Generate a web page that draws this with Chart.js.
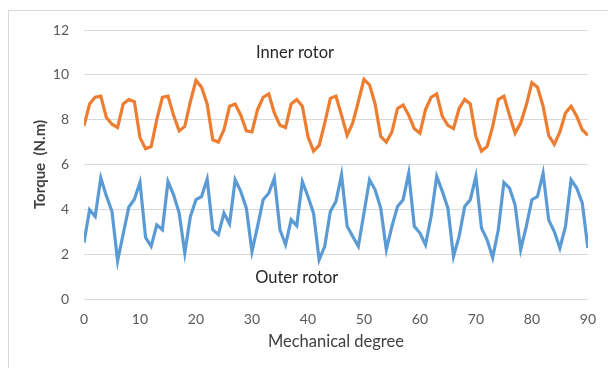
<!DOCTYPE html>
<html>
<head>
<meta charset="utf-8">
<script src="https://cdn.jsdelivr.net/npm/chart.js@4/dist/chart.umd.min.js"></script>
<style>
  html, body { margin: 0; padding: 0; background: #ffffff; }
  #wrap { width: 608px; height: 368px; position: relative; }
</style>
</head>
<body>
<div id="wrap"><canvas id="c" width="608" height="368"></canvas></div>
<script>
// Mechanical degree (x categories)
const degrees = [0,1,2,3,4,5,6,7,8,9,10,11,12,13,14,15,16,17,18,19,20,21,22,23,24,25,26,27,28,29,30,
  31,32,33,34,35,36,37,38,39,40,41,42,43,44,45,46,47,48,49,50,51,52,53,54,55,56,57,58,59,60,
  61,62,63,64,65,66,67,68,69,70,71,72,73,74,75,76,77,78,79,80,81,82,83,84,85,86,87,88,89,90];

// Inner rotor torque (N.m)
const innerRotor = [7.72,8.7,9.0,9.05,8.1,7.8,7.65,8.7,8.9,8.8,7.2,6.7,6.8,8.0,9.0,9.05,8.2,7.5,7.7,8.8,
  9.75,9.45,8.7,7.1,7.0,7.55,8.6,8.7,8.2,7.5,7.45,8.45,9.0,9.15,8.3,7.75,7.65,8.7,8.9,8.6,
  7.25,6.6,6.85,7.85,8.95,9.05,8.2,7.3,7.85,8.8,9.8,9.55,8.7,7.25,7.0,7.45,8.5,8.65,8.2,7.6,
  7.4,8.45,9.0,9.15,8.15,7.75,7.6,8.5,8.9,8.7,7.25,6.6,6.8,7.7,8.9,9.05,8.2,7.4,7.85,8.65,
  9.65,9.45,8.6,7.3,6.9,7.45,8.3,8.6,8.15,7.55,7.3];

// Outer rotor torque (N.m)
const outerRotor = [2.52,3.98,3.68,5.4,4.6,3.9,1.7,2.9,4.1,4.45,5.2,2.75,2.35,3.31,3.09,5.24,4.65,3.83,2.05,3.68,
  4.43,4.57,5.35,3.09,2.87,3.83,3.36,5.32,4.8,4.05,2.12,3.24,4.43,4.72,5.39,3.09,2.42,3.53,3.27,5.24,
  4.57,3.83,1.75,2.35,3.9,4.35,5.54,3.24,2.79,2.35,3.83,5.32,4.87,4.05,2.2,3.24,4.13,4.43,5.61,3.24,
  2.94,2.42,3.68,5.47,4.8,4.05,1.9,2.79,4.13,4.43,5.47,3.16,2.64,1.85,3.09,5.2,4.95,4.2,2.2,3.24,
  4.43,4.57,5.61,3.53,3.01,2.27,3.24,5.32,4.95,4.28,2.27];

// Axis tick settings and labels
const xTickStep = 10;
const yTickStep = 2;
const xTitle = 'Mechanical degree';
const yTitle = 'Torque  (N.m)';

// In-plot text labels: [text, x (degree), y (N.m)]
const seriesLabels = [
  ['Inner rotor', 37.7, 10.98],
  ['Outer rotor', 38.0, 0.94]
];

const FONT = "Lato, 'Open Sans', 'Liberation Sans', sans-serif";

const toXY = (vals) => degrees.map((d, i) => ({ x: d, y: vals[i] }));

const frameAndLabels = {
  id: 'frameAndLabels',
  beforeDraw(chart) {
    const ctx = chart.ctx;
    ctx.save();
    ctx.strokeStyle = '#d9d9d9';
    ctx.lineWidth = 1;
    ctx.strokeRect(8.5, 10.5, 620, 400);
    ctx.restore();
  },
  afterDatasetsDraw(chart) {
    const ctx = chart.ctx;
    const xs = chart.scales.x, ys = chart.scales.y;
    ctx.save();
    ctx.font = "16.5px " + FONT;
    ctx.fillStyle = '#262626';
    ctx.textAlign = 'center';
    ctx.textBaseline = 'middle';
    seriesLabels.forEach(([t, x, y]) => {
      ctx.fillText(t, xs.getPixelForValue(x), ys.getPixelForValue(y));
    });
    ctx.restore();
  }
};

new Chart(document.getElementById('c'), {
  type: 'line',
  data: {
    datasets: [
      { label: 'Inner rotor', data: toXY(innerRotor), borderColor: '#ED7D31', backgroundColor: '#ED7D31',
        borderWidth: 3.2, pointRadius: 0, tension: 0, fill: false },
      { label: 'Outer rotor', data: toXY(outerRotor), borderColor: '#5B9BD5', backgroundColor: '#5B9BD5',
        borderWidth: 3.2, pointRadius: 0, tension: 0, fill: false }
    ]
  },
  options: {
    responsive: false,
    animation: false,
    devicePixelRatio: 1,
    layout: { padding: { left: 0, right: 20, top: 30, bottom: 0 } },
    plugins: { legend: { display: false }, tooltip: { enabled: false } },
    scales: {
      x: {
        type: 'linear', min: 0, max: 90,
        afterFit(s) { s.height = 69; },
        ticks: { stepSize: xTickStep, padding: 12, color: '#595959', font: { family: FONT, size: 14 }, maxRotation: 0 },
        grid: { display: false, drawTicks: false },
        border: { display: false },
        title: { display: true, text: xTitle, color: '#404040', font: { family: FONT, size: 16.5 }, padding: { top: 0, bottom: 16 } }
      },
      y: {
        min: 0, max: 12,
        afterFit(s) { s.width = 84; },
        ticks: { stepSize: yTickStep, padding: 15, color: '#595959', font: { family: FONT, size: 14 } },
        grid: { color: '#d9d9d9', lineWidth: 1, drawTicks: false },
        border: { display: false },
        title: { display: true, text: yTitle, color: '#404040', font: { family: FONT, size: 15, weight: 'bold' }, padding: { top: 31, bottom: 0 } }
      }
    }
  },
  plugins: [frameAndLabels]
});
</script>
</body>
</html>
